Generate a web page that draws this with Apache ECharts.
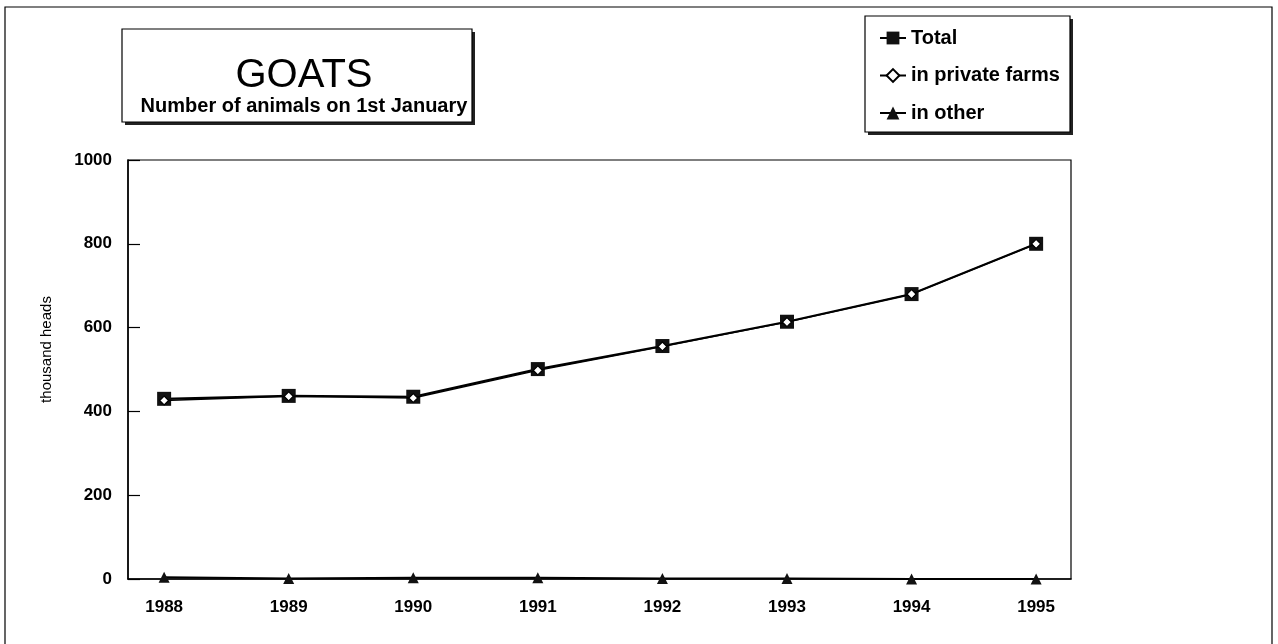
<!DOCTYPE html>
<html>
<head>
<meta charset="utf-8">
<script src="https://cdn.jsdelivr.net/npm/echarts@6/dist/echarts.min.js"></script>
<style>
  html, body { margin: 0; padding: 0; background: #fff; }
  #chart { width: 1278px; height: 644px; }
</style>
</head>
<body>
<div id="chart"></div>
<script>
// values (thousand heads)
const years = [1988, 1989, 1990, 1991, 1992, 1993, 1994, 1995]
const total = [430, 437, 435, 501, 556, 614, 680, 800]
const privateFarms = [426, 436, 432, 498, 555, 613, 680, 800]
const other = [4, 1, 3, 3, 1, 1, 0, 0]

const font = 'Arial, "Liberation Sans", sans-serif'
const chart = echarts.init(document.getElementById('chart'))

const pairs = (vals) => years.map((y, i) => [y, vals[i]])

// framed box with a dark shadow on the right and bottom
const shadowBox = (x, y, w, h) => [
  { type: 'rect', z: 0, shape: { x: x + 3, y: y + 3, width: w, height: h }, style: { fill: '#222' } },
  { type: 'rect', z: 1, shape: { x: x, y: y, width: w, height: h }, style: { fill: '#fff', stroke: '#000', lineWidth: 1.2 } }
]

const option = {
  backgroundColor: '#fff',
  animation: false,
  textStyle: { fontFamily: font, color: '#000' },
  graphic: [
    { type: 'rect', z: 0, shape: { x: 5, y: 7, width: 1267, height: 650 }, style: { fill: 'none', stroke: '#000', lineWidth: 1.2 } },
    ...shadowBox(122, 29, 350, 93),
    ...shadowBox(865, 16, 205, 116)
  ],
  title: {
    text: 'GOATS',
    subtext: 'Number of animals on 1st January',
    left: 299,
    top: 51,
    textAlign: 'center',
    itemGap: 0,
    z: 5,
    textStyle: { fontFamily: font, fontSize: 40, fontWeight: 'normal', color: '#000' },
    subtextStyle: { fontFamily: font, fontSize: 20, fontWeight: 'bold', color: '#000' }
  },
  legend: {
    orient: 'vertical',
    left: 874,
    top: 23,
    itemWidth: 26,
    itemHeight: 16,
    itemGap: 17.5,
    z: 5,
    textStyle: { fontFamily: font, fontSize: 20, fontWeight: 'bold', color: '#000' },
    data: ['Total', 'in private farms', 'in other']
  },
  grid: {
    left: 128,
    right: 207,
    top: 160,
    bottom: 65,
    show: true,
    borderColor: '#000',
    borderWidth: 1.2,
    backgroundColor: 'transparent'
  },
  xAxis: {
    type: 'value',
    min: 1987.71,
    max: 1995.28,
    splitLine: { show: false },
    axisLine: { lineStyle: { color: '#000', width: 1.5 } },
    axisTick: { show: false },
    axisLabel: {
      customValues: years,
      margin: 20,
      fontSize: 17,
      fontWeight: 'bold',
      color: '#000',
      fontFamily: font,
      formatter: (v) => String(v)
    }
  },
  yAxis: {
    type: 'value',
    min: 0,
    max: 1000,
    interval: 200,
    name: 'thousand heads',
    nameLocation: 'middle',
    nameGap: 74,
    nameTextStyle: { fontFamily: font, fontSize: 15, color: '#000', padding: [0, 0, 0, 40] },
    splitLine: { show: false },
    axisLine: { show: true, lineStyle: { color: '#000', width: 1.5 } },
    axisTick: { show: true, inside: true, length: 12, lineStyle: { color: '#000', width: 1.2 } },
    axisLabel: {
      margin: 16,
      fontSize: 17,
      fontWeight: 'bold',
      color: '#000',
      fontFamily: font,
      formatter: (v) => String(v)
    }
  },
  series: [
    {
      name: 'Total',
      type: 'line',
      data: pairs(total),
      symbol: 'rect',
      symbolSize: 14,
      itemStyle: { color: '#111' },
      lineStyle: { color: '#000', width: 2.2 },
      z: 3
    },
    {
      name: 'in private farms',
      type: 'line',
      data: pairs(privateFarms),
      symbol: 'diamond',
      symbolSize: 9,
      itemStyle: { color: '#fff', borderColor: '#000', borderWidth: 1.2 },
      lineStyle: { color: '#000', width: 1.4 },
      z: 4
    },
    {
      name: 'in other',
      type: 'line',
      data: pairs(other),
      symbol: 'triangle',
      symbolSize: 11,
      itemStyle: { color: '#111' },
      lineStyle: { color: '#000', width: 2 },
      z: 3
    }
  ]
}

chart.setOption(option)
</script>
</body>
</html>
